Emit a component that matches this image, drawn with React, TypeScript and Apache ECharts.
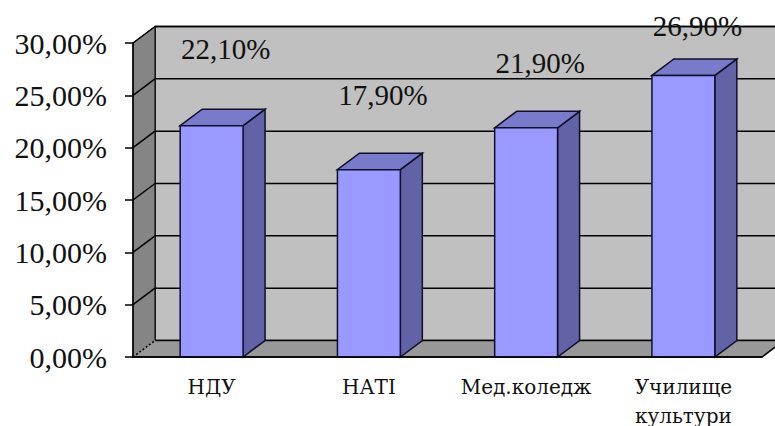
import React, { useEffect, useRef } from "react";
import * as echarts from "echarts";

const categories = ["НДУ", "НАТІ", "Мед.коледж", "Училище\nкультури"];
const values = [22.1, 17.9, 21.9, 26.9];
const yTicks = [0, 5, 10, 15, 20, 25, 30];
const labelLift = [77, 75, 65, 49];

const fmt = (v: number) => v.toFixed(2).replace(".", ",") + "%";

const DX = 22;
const DY = -16.5;
const FONT = "'Liberation Serif', 'DejaVu Serif', serif";
const CYR_FONT = "'DejaVu Serif', serif";

export default function App() {
  const ref = useRef<HTMLDivElement>(null);
  useEffect(() => {
    if (!ref.current) return;
    const chart = echarts.init(ref.current, undefined, { renderer: "svg" });
    const edge = "#10102a";
    chart.setOption({
      animation: false,
      backgroundColor: "#ffffff",
      grid: {
        left: 133,
        right: 13,
        top: 43,
        bottom: 69,
        containLabel: false,
        outerBoundsMode: "none",
      },
      xAxis: {
        type: "category",
        data: categories,
        z: 10,
        axisLine: { lineStyle: { color: "#000", width: 1.5 } },
        axisTick: { length: 8, lineStyle: { color: "#000", width: 1.5 } },
        axisLabel: {
          color: "#111",
          fontFamily: CYR_FONT,
          fontSize: 20,
          lineHeight: 29,
          margin: 15,
          interval: 0,
        },
      },
      yAxis: {
        type: "value",
        min: 0,
        max: 30,
        interval: 5,
        z: 10,
        axisLine: { show: true, lineStyle: { color: "#000", width: 1.5 } },
        axisTick: { show: true, length: 8, lineStyle: { color: "#000", width: 1.5 } },
        splitLine: { show: false },
        axisLabel: {
          color: "#111",
          fontFamily: FONT,
          fontSize: 30,
          margin: 26,
          formatter: (v: number) => fmt(v),
        },
      },
      series: [
        {
          type: "custom",
          data: values.map((v, i) => [i, v]),
          renderItem: (params: any, api: any) => {
            const i = api.value(0);
            const v = api.value(1);
            const cs = params.coordSys;
            const children: any[] = [];
            if (params.dataIndex === 0) {
              const x = cs.x, y = cs.y, w = cs.width, h = cs.height;
              children.push({
                type: "rect",
                shape: { x: x + DX, y: y + DY, width: w, height: h },
                style: { fill: "#c0c0c0", stroke: "#000", lineWidth: 1.5 },
              });
              children.push({
                type: "polygon",
                shape: { points: [[x, y + h], [x, y], [x + DX, y + DY], [x + DX, y + h + DY]] },
                style: { fill: "#858585", stroke: "#000", lineWidth: 1 },
              });
              children.push({
                type: "polygon",
                shape: { points: [[x, y + h], [x + DX, y + h + DY], [x + w + DX, y + h + DY], [x + w, y + h]] },
                style: { fill: "#989898", stroke: "#000", lineWidth: 1.5 },
              });
              children.push({
                type: "line",
                shape: { x1: x, y1: y + h, x2: x + DX, y2: y + h + DY },
                style: { stroke: "#989898", lineWidth: 2 },
              });
              children.push({
                type: "line",
                shape: { x1: x, y1: y + h, x2: x + DX, y2: y + h + DY },
                style: { stroke: "#000", lineWidth: 1.5, lineDash: [2, 2] },
              });
              yTicks.forEach((t) => {
                const yy = api.coord([0, t])[1];
                if (t > 0) {
                  children.push({
                    type: "line",
                    shape: { x1: x + DX, y1: yy + DY, x2: x + w + DX, y2: yy + DY },
                    style: { stroke: "#000", lineWidth: 1.5 },
                  });
                  children.push({
                    type: "line",
                    shape: { x1: x, y1: yy, x2: x + DX, y2: yy + DY },
                    style: { stroke: "#000", lineWidth: 1.5 },
                  });
                }
              });
            }
            const top = api.coord([i, v]);
            const bottom = api.coord([i, 0]);
            const band = api.size([1, 0])[0];
            const bw = band * 0.4;
            const cx = top[0];
            const l = cx - bw / 2;
            const r = cx + bw / 2;
            const ty = top[1];
            const by = bottom[1];
            children.push({
              type: "polygon",
              shape: { points: [[r, ty], [r + DX, ty + DY], [r + DX, by + DY], [r, by]] },
              style: { fill: "#6262a6", stroke: edge, lineWidth: 1.5 },
            });
            children.push({
              type: "polygon",
              shape: { points: [[l, ty], [l + DX, ty + DY], [r + DX, ty + DY], [r, ty]] },
              style: { fill: "#7a7acb", stroke: edge, lineWidth: 1.5 },
            });
            children.push({
              type: "rect",
              shape: { x: l, y: ty, width: bw, height: by - ty },
              style: { fill: "#9999ff", stroke: edge, lineWidth: 1.5 },
            });
            children.push({
              type: "text",
              style: {
                x: cx + 14,
                y: ty - labelLift[params.dataIndex],
                text: fmt(v),
                fill: "#111",
                fontFamily: FONT,
                fontSize: 29,
                align: "center",
                verticalAlign: "middle",
              },
            });
            return { type: "group", children };
          },
        },
      ],
    });
    return () => chart.dispose();
  }, []);
  return (
    <div
      ref={ref}
      style={{ position: "fixed", left: 0, top: 0, width: 775, height: 426 }}
    />
  );
}
